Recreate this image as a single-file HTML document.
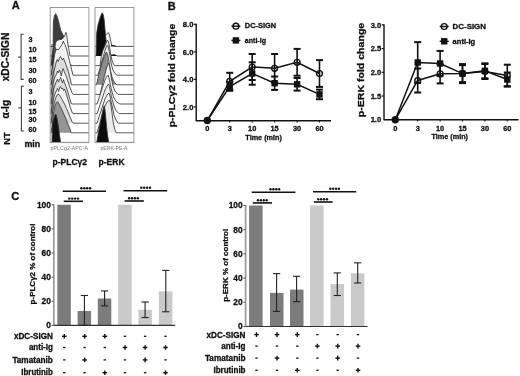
<!DOCTYPE html>
<html><head><meta charset="utf-8"><style>
html,body{margin:0;padding:0;background:#fff;}
html{filter:grayscale(1);}
body{width:520px;height:376px;overflow:hidden;}
svg{display:block;font-family:"Liberation Sans", sans-serif;}
text{stroke:#111;stroke-width:0.3px;stroke-linejoin:round;}
text.lt{stroke:none;}
</style></head><body>
<svg width="520" height="376" viewBox="0 0 520 376" font-family='"Liberation Sans", sans-serif'>
<rect width="520" height="376" fill="#fff"/>
<text x="11.8" y="8.8" font-size="11" font-weight="bold" fill="#111">A</text>
<text x="8.7" y="57.0" font-size="10.2" font-weight="bold" text-anchor="middle" transform="rotate(-90 8.7 57.0)" fill="#111">xDC-SIGN</text>
<text x="8.8" y="109.2" font-size="10" font-weight="bold" text-anchor="middle" transform="rotate(-90 8.8 109.2)" fill="#111">α-Ig</text>
<text x="9.8" y="138.6" font-size="9.3" font-weight="bold" text-anchor="middle" transform="rotate(-90 9.8 138.6)" fill="#111">NT</text>
<path d="M23.7 34.2 H21.1 V79.4 H23.7 M21.1 57.1 H18.1" fill="none" stroke="#444" stroke-width="1.1"/>
<path d="M24.0 86.2 H21.4 V131 H24.0 M21.4 107.9 H18.4" fill="none" stroke="#444" stroke-width="1.1"/>
<text x="28.4" y="41.7" font-size="7.2" font-weight="bold" fill="#111">3</text>
<text x="28.4" y="51.7" font-size="7.2" font-weight="bold" fill="#111">10</text>
<text x="28.4" y="62.3" font-size="7.2" font-weight="bold" fill="#111">15</text>
<text x="28.4" y="72.6" font-size="7.2" font-weight="bold" fill="#111">30</text>
<text x="28.4" y="83.0" font-size="7.2" font-weight="bold" fill="#111">60</text>
<text x="28.4" y="94.3" font-size="7.2" font-weight="bold" fill="#111">3</text>
<text x="28.4" y="104.9" font-size="7.2" font-weight="bold" fill="#111">10</text>
<text x="28.4" y="114.1" font-size="7.2" font-weight="bold" fill="#111">15</text>
<text x="28.4" y="122.2" font-size="7.2" font-weight="bold" fill="#111">30</text>
<text x="28.4" y="131.6" font-size="7.2" font-weight="bold" fill="#111">60</text>
<text x="24.4" y="147.2" font-size="8.4" font-weight="bold" textLength="15.8" lengthAdjust="spacingAndGlyphs" fill="#111">min</text>
<clipPath id="cb0"><rect x="50.2" y="7.5" width="38.7" height="135.1"/></clipPath>
<clipPath id="cb1"><rect x="95.0" y="7.5" width="38.9" height="135.1"/></clipPath>
<g clip-path="url(#cb0)">
<path d="M53.2 46.4 L53.2 36.0 L53.4 22.0 L54.3 16.0 L55.6 13.7 L56.5 15.0 L57.5 17.4 L59.1 23.8 L60.7 30.2 L62.8 34.5 L63.9 36.6 L65.0 38.0 L66.0 40.0 L67.0 43.0 L68.0 46.4Z" fill="#3c3c3c"/>
<path d="M50.2 46.4 L53.2 46.4 L53.2 36.0 L53.4 22.0 L54.3 16.0 L55.6 13.7 L56.5 15.0 L57.5 17.4 L59.1 23.8 L60.7 30.2 L62.8 34.5 L63.9 36.6 L65.0 38.0 L66.0 40.0 L67.0 43.0 L68.0 46.4 L88.9 46.4" fill="none" stroke="#3a3a3a" stroke-width="0.85"/>
<path d="M53.0 56.0 L54.0 52.0 L55.0 46.0 L56.0 41.5 L58.0 40.0 L60.0 39.6 L62.0 39.2 L63.6 37.5 L64.6 36.0 L65.3 34.0 L66.0 32.3 L66.6 34.5 L67.3 40.0 L68.2 46.0 L69.2 51.5 L70.2 56.0Z" fill="#f6f6f6"/>
<path d="M50.2 56.0 L53.0 56.0 L54.0 52.0 L55.0 46.0 L56.0 41.5 L58.0 40.0 L60.0 39.6 L62.0 39.2 L63.6 37.5 L64.6 36.0 L65.3 34.0 L66.0 32.3 L66.6 34.5 L67.3 40.0 L68.2 46.0 L69.2 51.5 L70.2 56.0 L88.9 56.0" fill="none" stroke="#3a3a3a" stroke-width="0.85"/>
<path d="M51.2 65.6 L52.0 58.0 L52.8 51.0 L53.5 47.0 L54.5 46.0 L55.5 48.0 L56.5 52.0 L57.5 56.0 L59.0 59.0 L61.0 61.0 L64.0 62.5 L68.0 64.0 L72.7 65.6Z" fill="#555555"/>
<path d="M50.2 65.6 L51.2 65.6 L52.0 58.0 L52.8 51.0 L53.5 47.0 L54.5 46.0 L55.5 48.0 L56.5 52.0 L57.5 56.0 L59.0 59.0 L61.0 61.0 L64.0 62.5 L68.0 64.0 L72.7 65.6 L88.9 65.6" fill="none" stroke="#3a3a3a" stroke-width="0.85"/>
<path d="M51.0 75.2 L52.0 70.0 L53.0 64.0 L54.0 58.0 L55.0 53.0 L56.0 50.0 L57.0 49.0 L58.0 50.0 L59.0 49.0 L60.0 47.5 L61.0 46.0 L62.0 44.5 L63.3 41.0 L64.0 43.0 L65.0 44.5 L66.0 47.5 L67.5 53.0 L69.0 59.0 L70.5 65.0 L72.0 71.0 L73.0 75.2Z" fill="#f2f2f2"/>
<path d="M50.2 75.2 L51.0 75.2 L52.0 70.0 L53.0 64.0 L54.0 58.0 L55.0 53.0 L56.0 50.0 L57.0 49.0 L58.0 50.0 L59.0 49.0 L60.0 47.5 L61.0 46.0 L62.0 44.5 L63.3 41.0 L64.0 43.0 L65.0 44.5 L66.0 47.5 L67.5 53.0 L69.0 59.0 L70.5 65.0 L72.0 71.0 L73.0 75.2 L88.9 75.2" fill="none" stroke="#3a3a3a" stroke-width="0.85"/>
<path d="M51.0 84.8 L52.2 78.0 L53.5 72.0 L55.0 67.0 L56.2 62.0 L57.2 59.5 L58.3 61.5 L59.3 58.5 L60.5 56.5 L61.5 58.5 L62.5 60.0 L63.5 58.0 L64.5 61.0 L66.0 64.5 L67.5 69.0 L69.0 74.0 L70.5 80.0 L71.5 84.8Z" fill="#dcdcdc"/>
<path d="M50.2 84.8 L51.0 84.8 L52.2 78.0 L53.5 72.0 L55.0 67.0 L56.2 62.0 L57.2 59.5 L58.3 61.5 L59.3 58.5 L60.5 56.5 L61.5 58.5 L62.5 60.0 L63.5 58.0 L64.5 61.0 L66.0 64.5 L67.5 69.0 L69.0 74.0 L70.5 80.0 L71.5 84.8 L88.9 84.8" fill="none" stroke="#3a3a3a" stroke-width="0.85"/>
<path d="M51.0 94.4 L52.2 87.0 L53.5 81.0 L55.0 77.0 L56.5 74.0 L57.5 71.0 L58.5 73.0 L59.5 70.0 L60.5 72.5 L61.3 76.0 L62.2 71.0 L63.0 68.5 L64.0 71.0 L65.0 73.5 L66.5 77.0 L68.5 83.0 L70.5 89.0 L72.0 92.5 L73.2 94.4Z" fill="#f5f5f5"/>
<path d="M50.2 94.4 L51.0 94.4 L52.2 87.0 L53.5 81.0 L55.0 77.0 L56.5 74.0 L57.5 71.0 L58.5 73.0 L59.5 70.0 L60.5 72.5 L61.3 76.0 L62.2 71.0 L63.0 68.5 L64.0 71.0 L65.0 73.5 L66.5 77.0 L68.5 83.0 L70.5 89.0 L72.0 92.5 L73.2 94.4 L88.9 94.4" fill="none" stroke="#3a3a3a" stroke-width="0.85"/>
<path d="M51.0 104.0 L52.2 96.0 L53.5 89.0 L55.0 85.0 L56.5 81.0 L57.5 79.0 L58.5 82.0 L59.5 79.5 L60.5 77.5 L61.5 80.0 L62.5 83.0 L63.5 79.5 L64.5 83.0 L66.0 86.5 L67.5 91.0 L69.0 96.0 L70.5 101.0 L71.5 104.0Z" fill="#dedede"/>
<path d="M50.2 104.0 L51.0 104.0 L52.2 96.0 L53.5 89.0 L55.0 85.0 L56.5 81.0 L57.5 79.0 L58.5 82.0 L59.5 79.5 L60.5 77.5 L61.5 80.0 L62.5 83.0 L63.5 79.5 L64.5 83.0 L66.0 86.5 L67.5 91.0 L69.0 96.0 L70.5 101.0 L71.5 104.0 L88.9 104.0" fill="none" stroke="#3a3a3a" stroke-width="0.85"/>
<path d="M51.0 113.6 L52.2 105.0 L53.5 98.0 L55.0 94.0 L56.5 90.5 L57.5 88.5 L58.5 91.5 L59.5 88.0 L60.5 86.5 L61.5 89.0 L62.5 88.0 L63.5 90.5 L64.5 89.0 L66.0 93.0 L67.5 98.0 L69.0 103.0 L70.5 108.0 L72.0 112.0 L73.0 113.6Z" fill="#f3f3f3"/>
<path d="M50.2 113.6 L51.0 113.6 L52.2 105.0 L53.5 98.0 L55.0 94.0 L56.5 90.5 L57.5 88.5 L58.5 91.5 L59.5 88.0 L60.5 86.5 L61.5 89.0 L62.5 88.0 L63.5 90.5 L64.5 89.0 L66.0 93.0 L67.5 98.0 L69.0 103.0 L70.5 108.0 L72.0 112.0 L73.0 113.6 L88.9 113.6" fill="none" stroke="#3a3a3a" stroke-width="0.85"/>
<path d="M51.0 123.2 L52.2 114.0 L53.5 106.0 L55.0 100.0 L56.5 96.0 L58.0 94.0 L59.5 95.0 L61.0 97.5 L62.6 100.5 L64.5 104.0 L66.5 108.5 L68.5 113.0 L70.5 118.0 L72.0 121.5 L73.3 123.2Z" fill="#dcdcdc"/>
<path d="M50.2 123.2 L51.0 123.2 L52.2 114.0 L53.5 106.0 L55.0 100.0 L56.5 96.0 L58.0 94.0 L59.5 95.0 L61.0 97.5 L62.6 100.5 L64.5 104.0 L66.5 108.5 L68.5 113.0 L70.5 118.0 L72.0 121.5 L73.3 123.2 L88.9 123.2" fill="none" stroke="#3a3a3a" stroke-width="0.85"/>
<path d="M51.0 132.8 L52.3 124.0 L53.5 114.0 L55.0 106.0 L56.3 102.5 L57.3 101.5 L58.5 103.0 L60.0 106.0 L62.0 110.0 L64.0 114.5 L66.0 119.0 L68.0 124.0 L70.0 129.0 L71.3 132.8Z" fill="#959595"/>
<path d="M50.2 132.8 L51.0 132.8 L52.3 124.0 L53.5 114.0 L55.0 106.0 L56.3 102.5 L57.3 101.5 L58.5 103.0 L60.0 106.0 L62.0 110.0 L64.0 114.5 L66.0 119.0 L68.0 124.0 L70.0 129.0 L71.3 132.8 L88.9 132.8" fill="none" stroke="#3a3a3a" stroke-width="0.85"/>
<path d="M52.0 142.4 L52.2 132.0 L52.6 124.0 L53.6 119.0 L55.0 115.2 L55.8 114.0 L56.6 116.0 L57.5 121.0 L58.5 127.0 L59.4 134.0 L60.1 139.0 L60.6 142.4Z" fill="#111111"/>
<path d="M50.2 142.4 L52.0 142.4 L52.2 132.0 L52.6 124.0 L53.6 119.0 L55.0 115.2 L55.8 114.0 L56.6 116.0 L57.5 121.0 L58.5 127.0 L59.4 134.0 L60.1 139.0 L60.6 142.4 L88.9 142.4" fill="none" stroke="#3a3a3a" stroke-width="0.85"/>
<path d="M50.6 44 L54 44 L54.6 70 L54.2 100 L52.6 120 L50.6 128 Z" fill="#000" fill-opacity="0.3"/>
</g>
<rect x="50.2" y="7.5" width="38.7" height="135.1" fill="none" stroke="#999" stroke-width="1.0"/>
<g clip-path="url(#cb1)">
<path d="M100.0 46.4 L103.0 40.0 L105.0 36.0 L106.5 34.0 L108.4 32.6 L109.5 35.0 L110.5 40.0 L111.6 45.0 L113.0 45.6 L116.0 46.4Z" fill="#f5f5f5"/>
<path d="M95.0 46.4 L100.0 46.4 L103.0 40.0 L105.0 36.0 L106.5 34.0 L108.4 32.6 L109.5 35.0 L110.5 40.0 L111.6 45.0 L113.0 45.6 L116.0 46.4 L133.9 46.4" fill="none" stroke="#3a3a3a" stroke-width="0.85"/>
<path d="M96.0 56.0 L96.3 45.0 L96.7 33.0 L98.0 25.0 L100.0 18.0 L101.5 14.0 L102.3 12.8 L103.3 15.0 L104.2 20.0 L105.0 29.3 L105.7 37.0 L106.2 43.0 L107.0 49.0 L108.5 53.5 L110.5 54.8 L112.0 55.0 L114.0 54.6 L116.0 55.3 L117.5 56.0Z" fill="#0c0c0c"/>
<path d="M95.0 56.0 L96.0 56.0 L96.3 45.0 L96.7 33.0 L98.0 25.0 L100.0 18.0 L101.5 14.0 L102.3 12.8 L103.3 15.0 L104.2 20.0 L105.0 29.3 L105.7 37.0 L106.2 43.0 L107.0 49.0 L108.5 53.5 L110.5 54.8 L112.0 55.0 L114.0 54.6 L116.0 55.3 L117.5 56.0 L133.9 56.0" fill="none" stroke="#3a3a3a" stroke-width="0.85"/>
<path d="M100.0 65.6 L101.3 56.0 L103.0 50.0 L105.0 45.5 L106.5 42.0 L107.5 40.0 L108.5 42.0 L109.5 47.0 L110.5 53.0 L111.5 58.0 L112.5 62.0 L114.4 65.6Z" fill="#eeeeee"/>
<path d="M95.0 65.6 L100.0 65.6 L101.3 56.0 L103.0 50.0 L105.0 45.5 L106.5 42.0 L107.5 40.0 L108.5 42.0 L109.5 47.0 L110.5 53.0 L111.5 58.0 L112.5 62.0 L114.4 65.6 L133.9 65.6" fill="none" stroke="#3a3a3a" stroke-width="0.85"/>
<path d="M98.0 75.2 L100.0 68.0 L102.0 61.0 L104.0 54.0 L105.5 49.0 L106.5 46.0 L107.5 45.0 L108.5 48.0 L109.5 53.0 L110.5 59.0 L111.5 65.0 L113.0 70.0 L115.0 73.5 L117.0 75.2Z" fill="#f3f3f3"/>
<path d="M95.0 75.2 L98.0 75.2 L100.0 68.0 L102.0 61.0 L104.0 54.0 L105.5 49.0 L106.5 46.0 L107.5 45.0 L108.5 48.0 L109.5 53.0 L110.5 59.0 L111.5 65.0 L113.0 70.0 L115.0 73.5 L117.0 75.2 L133.9 75.2" fill="none" stroke="#3a3a3a" stroke-width="0.85"/>
<path d="M96.5 84.8 L98.0 78.0 L100.0 70.0 L102.0 63.0 L104.0 57.0 L105.5 53.5 L106.5 52.0 L107.5 54.0 L108.5 59.0 L109.5 65.0 L110.5 71.0 L112.0 77.0 L114.0 82.0 L117.0 84.8Z" fill="#8c8c8c"/>
<path d="M95.0 84.8 L96.5 84.8 L98.0 78.0 L100.0 70.0 L102.0 63.0 L104.0 57.0 L105.5 53.5 L106.5 52.0 L107.5 54.0 L108.5 59.0 L109.5 65.0 L110.5 71.0 L112.0 77.0 L114.0 82.0 L117.0 84.8 L133.9 84.8" fill="none" stroke="#3a3a3a" stroke-width="0.85"/>
<path d="M100.0 94.4 L102.0 86.0 L104.0 78.0 L106.0 70.0 L107.5 65.0 L108.5 63.0 L109.5 66.0 L110.5 72.0 L111.5 79.0 L113.0 86.0 L115.0 91.0 L118.0 94.4Z" fill="#f5f5f5"/>
<path d="M95.0 94.4 L100.0 94.4 L102.0 86.0 L104.0 78.0 L106.0 70.0 L107.5 65.0 L108.5 63.0 L109.5 66.0 L110.5 72.0 L111.5 79.0 L113.0 86.0 L115.0 91.0 L118.0 94.4 L133.9 94.4" fill="none" stroke="#3a3a3a" stroke-width="0.85"/>
<path d="M97.0 104.0 L99.0 98.0 L101.0 92.0 L103.0 86.0 L105.0 80.0 L106.5 77.0 L108.0 75.0 L109.0 78.0 L110.0 83.0 L111.5 90.0 L113.5 97.0 L116.0 101.5 L120.0 104.0Z" fill="#f5f5f5"/>
<path d="M95.0 104.0 L97.0 104.0 L99.0 98.0 L101.0 92.0 L103.0 86.0 L105.0 80.0 L106.5 77.0 L108.0 75.0 L109.0 78.0 L110.0 83.0 L111.5 90.0 L113.5 97.0 L116.0 101.5 L120.0 104.0 L133.9 104.0" fill="none" stroke="#3a3a3a" stroke-width="0.85"/>
<path d="M97.0 113.6 L99.0 108.0 L101.0 102.0 L103.0 96.0 L105.0 90.0 L107.0 86.0 L108.5 84.0 L109.5 87.0 L110.5 92.0 L112.0 99.0 L114.0 106.0 L116.0 110.5 L119.0 113.6Z" fill="#f0f0f0"/>
<path d="M95.0 113.6 L97.0 113.6 L99.0 108.0 L101.0 102.0 L103.0 96.0 L105.0 90.0 L107.0 86.0 L108.5 84.0 L109.5 87.0 L110.5 92.0 L112.0 99.0 L114.0 106.0 L116.0 110.5 L119.0 113.6 L133.9 113.6" fill="none" stroke="#3a3a3a" stroke-width="0.85"/>
<path d="M97.0 123.2 L99.0 117.0 L101.0 111.0 L103.0 105.0 L105.0 99.0 L107.0 95.0 L109.0 93.0 L110.0 96.0 L111.0 101.0 L112.5 108.0 L114.0 115.0 L116.0 120.0 L118.0 123.2Z" fill="#f4f4f4"/>
<path d="M95.0 123.2 L97.0 123.2 L99.0 117.0 L101.0 111.0 L103.0 105.0 L105.0 99.0 L107.0 95.0 L109.0 93.0 L110.0 96.0 L111.0 101.0 L112.5 108.0 L114.0 115.0 L116.0 120.0 L118.0 123.2 L133.9 123.2" fill="none" stroke="#3a3a3a" stroke-width="0.85"/>
<path d="M97.0 132.8 L99.0 126.0 L101.0 119.0 L103.0 112.0 L105.0 106.0 L107.0 102.0 L109.5 100.0 L110.5 103.0 L111.5 109.0 L112.5 117.0 L113.5 124.0 L115.0 130.0 L116.3 132.8Z" fill="#ebebeb"/>
<path d="M95.0 132.8 L97.0 132.8 L99.0 126.0 L101.0 119.0 L103.0 112.0 L105.0 106.0 L107.0 102.0 L109.5 100.0 L110.5 103.0 L111.5 109.0 L112.5 117.0 L113.5 124.0 L115.0 130.0 L116.3 132.8 L133.9 132.8" fill="none" stroke="#3a3a3a" stroke-width="0.85"/>
<path d="M96.7 142.4 L98.5 132.0 L100.5 122.0 L102.5 112.0 L104.1 105.8 L105.0 110.0 L105.8 118.0 L106.5 126.0 L107.3 133.0 L108.0 138.0 L108.8 142.4Z" fill="#0c0c0c"/>
<path d="M95.0 142.4 L96.7 142.4 L98.5 132.0 L100.5 122.0 L102.5 112.0 L104.1 105.8 L105.0 110.0 L105.8 118.0 L106.5 126.0 L107.3 133.0 L108.0 138.0 L108.8 142.4 L133.9 142.4" fill="none" stroke="#3a3a3a" stroke-width="0.85"/>
<path d="M110.6 46.4 L111.4 44.8 L113 44.9 L115 45.4 L116.8 46.4 Z" fill="#222"/>
</g>
<rect x="95.0" y="7.5" width="38.9" height="135.1" fill="none" stroke="#999" stroke-width="1.0"/>
<text class="lt" x="69.3" y="150.3" font-size="4.6" text-anchor="middle" textLength="37.5" lengthAdjust="spacingAndGlyphs" fill="#777">pPLCg2-APC-A</text>
<text class="lt" x="114" y="150.3" font-size="4.6" text-anchor="middle" textLength="27" lengthAdjust="spacingAndGlyphs" fill="#777">pERK-PE-A</text>
<text x="69.8" y="165.0" font-size="8.6" font-weight="bold" text-anchor="middle" textLength="34.5" lengthAdjust="spacingAndGlyphs" fill="#111">p-PLCγ2</text>
<text x="111.6" y="165.0" font-size="8.6" font-weight="bold" text-anchor="middle" textLength="26" lengthAdjust="spacingAndGlyphs" fill="#111">p-ERK</text>
<text x="167.8" y="9.6" font-size="11" font-weight="bold" fill="#111">B</text>
<line x1="196.2" y1="23.71" x2="196.2" y2="121.3" stroke="#111" stroke-width="1.4"/>
<line x1="196.2" y1="120.7" x2="331" y2="120.7" stroke="#111" stroke-width="1.4"/>
<line x1="193.8" y1="106.93" x2="196.2" y2="106.93" stroke="#111" stroke-width="1.2"/>
<text x="193.4" y="109.63" font-size="7.6" font-weight="bold" text-anchor="end" fill="#111">2.0</text>
<line x1="193.8" y1="79.39" x2="196.2" y2="79.39" stroke="#111" stroke-width="1.2"/>
<text x="193.4" y="82.09" font-size="7.6" font-weight="bold" text-anchor="end" fill="#111">4.0</text>
<line x1="193.8" y1="51.85" x2="196.2" y2="51.85" stroke="#111" stroke-width="1.2"/>
<text x="193.4" y="54.55" font-size="7.6" font-weight="bold" text-anchor="end" fill="#111">6.0</text>
<line x1="193.8" y1="24.31" x2="196.2" y2="24.31" stroke="#111" stroke-width="1.2"/>
<text x="193.4" y="27.01" font-size="7.6" font-weight="bold" text-anchor="end" fill="#111">8.0</text>
<line x1="207.3" y1="120.7" x2="207.3" y2="122.5" stroke="#111" stroke-width="1.1"/>
<text x="207.3" y="131.1" font-size="7.4" font-weight="bold" text-anchor="middle" fill="#111">0</text>
<line x1="229.7" y1="120.7" x2="229.7" y2="122.5" stroke="#111" stroke-width="1.1"/>
<text x="229.7" y="131.1" font-size="7.4" font-weight="bold" text-anchor="middle" fill="#111">3</text>
<line x1="252.2" y1="120.7" x2="252.2" y2="122.5" stroke="#111" stroke-width="1.1"/>
<text x="252.2" y="131.1" font-size="7.4" font-weight="bold" text-anchor="middle" fill="#111">10</text>
<line x1="274.6" y1="120.7" x2="274.6" y2="122.5" stroke="#111" stroke-width="1.1"/>
<text x="274.6" y="131.1" font-size="7.4" font-weight="bold" text-anchor="middle" fill="#111">15</text>
<line x1="297.1" y1="120.7" x2="297.1" y2="122.5" stroke="#111" stroke-width="1.1"/>
<text x="297.1" y="131.1" font-size="7.4" font-weight="bold" text-anchor="middle" fill="#111">30</text>
<line x1="319.5" y1="120.7" x2="319.5" y2="122.5" stroke="#111" stroke-width="1.1"/>
<text x="319.5" y="131.1" font-size="7.4" font-weight="bold" text-anchor="middle" fill="#111">60</text>
<text x="263.6" y="139.9" font-size="7.6" font-weight="bold" text-anchor="middle" textLength="36.5" lengthAdjust="spacingAndGlyphs" fill="#111">Time (min)</text>
<text x="175.2" y="75.5" font-size="9.7" font-weight="bold" text-anchor="middle" textLength="103.5" lengthAdjust="spacingAndGlyphs" transform="rotate(-90 175.2 75.5)" fill="#111">p-PLCγ2 fold change</text>
<polyline points="207.3,120.5 229.7,81.3 252.2,67.0 274.6,68.3 297.1,62.3 319.5,73.5" fill="none" stroke="#111" stroke-width="1.5"/>
<polyline points="207.3,120.5 229.7,86.5 252.2,73.5 274.6,83.2 297.1,84.3 319.5,94.4" fill="none" stroke="#111" stroke-width="1.5"/>
<line x1="229.7" y1="72.8" x2="229.7" y2="89.8" stroke="#111" stroke-width="1.6"/>
<line x1="226.2" y1="72.8" x2="233.2" y2="72.8" stroke="#111" stroke-width="2.0"/>
<line x1="226.2" y1="89.8" x2="233.2" y2="89.8" stroke="#111" stroke-width="2.0"/>
<line x1="252.2" y1="54" x2="252.2" y2="80" stroke="#111" stroke-width="1.6"/>
<line x1="248.7" y1="54" x2="255.7" y2="54" stroke="#111" stroke-width="2.0"/>
<line x1="248.7" y1="80" x2="255.7" y2="80" stroke="#111" stroke-width="2.0"/>
<line x1="274.6" y1="54.0" x2="274.6" y2="82.6" stroke="#111" stroke-width="1.6"/>
<line x1="271.1" y1="54.0" x2="278.1" y2="54.0" stroke="#111" stroke-width="2.0"/>
<line x1="271.1" y1="82.6" x2="278.1" y2="82.6" stroke="#111" stroke-width="2.0"/>
<line x1="297.1" y1="48.9" x2="297.1" y2="75.7" stroke="#111" stroke-width="1.6"/>
<line x1="293.6" y1="48.9" x2="300.6" y2="48.9" stroke="#111" stroke-width="2.0"/>
<line x1="293.6" y1="75.7" x2="300.6" y2="75.7" stroke="#111" stroke-width="2.0"/>
<line x1="319.5" y1="60.1" x2="319.5" y2="86.9" stroke="#111" stroke-width="1.6"/>
<line x1="316.0" y1="60.1" x2="323.0" y2="60.1" stroke="#111" stroke-width="2.0"/>
<line x1="316.0" y1="86.9" x2="323.0" y2="86.9" stroke="#111" stroke-width="2.0"/>
<line x1="229.7" y1="82.2" x2="229.7" y2="90.8" stroke="#111" stroke-width="1.6"/>
<line x1="226.2" y1="82.2" x2="233.2" y2="82.2" stroke="#111" stroke-width="2.0"/>
<line x1="226.2" y1="90.8" x2="233.2" y2="90.8" stroke="#111" stroke-width="2.0"/>
<line x1="252.2" y1="62.3" x2="252.2" y2="84.7" stroke="#111" stroke-width="1.6"/>
<line x1="248.7" y1="62.3" x2="255.7" y2="62.3" stroke="#111" stroke-width="2.0"/>
<line x1="248.7" y1="84.7" x2="255.7" y2="84.7" stroke="#111" stroke-width="2.0"/>
<line x1="274.6" y1="76.5" x2="274.6" y2="89.9" stroke="#111" stroke-width="1.6"/>
<line x1="271.1" y1="76.5" x2="278.1" y2="76.5" stroke="#111" stroke-width="2.0"/>
<line x1="271.1" y1="89.9" x2="278.1" y2="89.9" stroke="#111" stroke-width="2.0"/>
<line x1="297.1" y1="78.0" x2="297.1" y2="90.6" stroke="#111" stroke-width="1.6"/>
<line x1="293.6" y1="78.0" x2="300.6" y2="78.0" stroke="#111" stroke-width="2.0"/>
<line x1="293.6" y1="90.6" x2="300.6" y2="90.6" stroke="#111" stroke-width="2.0"/>
<line x1="319.5" y1="89.6" x2="319.5" y2="99.2" stroke="#111" stroke-width="1.6"/>
<line x1="316.0" y1="89.6" x2="323.0" y2="89.6" stroke="#111" stroke-width="2.0"/>
<line x1="316.0" y1="99.2" x2="323.0" y2="99.2" stroke="#111" stroke-width="2.0"/>
<circle cx="207.3" cy="120.5" r="3.7" fill="#111"/>
<circle cx="229.7" cy="81.3" r="2.9" fill="none" stroke="#111" stroke-width="1.4"/>
<circle cx="252.2" cy="67" r="2.9" fill="none" stroke="#111" stroke-width="1.4"/>
<circle cx="274.6" cy="68.3" r="2.9" fill="none" stroke="#111" stroke-width="1.4"/>
<circle cx="297.1" cy="62.3" r="2.9" fill="none" stroke="#111" stroke-width="1.4"/>
<circle cx="319.5" cy="73.5" r="2.9" fill="none" stroke="#111" stroke-width="1.4"/>
<rect x="226.5" y="83.3" width="6.4" height="6.4" fill="#111"/>
<rect x="249.0" y="70.3" width="6.4" height="6.4" fill="#111"/>
<rect x="271.4" y="80.0" width="6.4" height="6.4" fill="#111"/>
<rect x="293.9" y="81.1" width="6.4" height="6.4" fill="#111"/>
<rect x="316.3" y="91.2" width="6.4" height="6.4" fill="#111"/>
<line x1="231.4" y1="26.2" x2="240.4" y2="26.2" stroke="#111" stroke-width="1.4"/>
<circle cx="235.9" cy="26.2" r="2.9" fill="none" stroke="#111" stroke-width="1.4"/>
<text x="244.8" y="28.4" font-size="7.7" font-weight="bold" textLength="31.4" lengthAdjust="spacingAndGlyphs" fill="#111">DC-SIGN</text>
<line x1="231.4" y1="40.4" x2="240.4" y2="40.4" stroke="#111" stroke-width="1.4"/>
<rect x="232.7" y="37.2" width="6.4" height="6.4" fill="#111"/>
<text x="244.8" y="42.8" font-size="7.7" font-weight="bold" textLength="21.2" lengthAdjust="spacingAndGlyphs" fill="#111">anti-Ig</text>
<line x1="384" y1="24.3" x2="384" y2="120.3" stroke="#111" stroke-width="1.4"/>
<line x1="384" y1="119.7" x2="518.6" y2="119.7" stroke="#111" stroke-width="1.4"/>
<text x="381.2" y="122.4" font-size="7.6" font-weight="bold" text-anchor="end" fill="#111">1.0</text>
<line x1="381.6" y1="96.0" x2="384" y2="96.0" stroke="#111" stroke-width="1.2"/>
<text x="381.2" y="98.7" font-size="7.6" font-weight="bold" text-anchor="end" fill="#111">1.5</text>
<line x1="381.6" y1="72.3" x2="384" y2="72.3" stroke="#111" stroke-width="1.2"/>
<text x="381.2" y="75" font-size="7.6" font-weight="bold" text-anchor="end" fill="#111">2.0</text>
<line x1="381.6" y1="48.6" x2="384" y2="48.6" stroke="#111" stroke-width="1.2"/>
<text x="381.2" y="51.3" font-size="7.6" font-weight="bold" text-anchor="end" fill="#111">2.5</text>
<line x1="381.6" y1="24.9" x2="384" y2="24.9" stroke="#111" stroke-width="1.2"/>
<text x="381.2" y="27.6" font-size="7.6" font-weight="bold" text-anchor="end" fill="#111">3.0</text>
<line x1="395.3" y1="119.7" x2="395.3" y2="121.5" stroke="#111" stroke-width="1.1"/>
<text x="395.3" y="130.7" font-size="7.4" font-weight="bold" text-anchor="middle" fill="#111">0</text>
<line x1="417.7" y1="119.7" x2="417.7" y2="121.5" stroke="#111" stroke-width="1.1"/>
<text x="417.7" y="130.7" font-size="7.4" font-weight="bold" text-anchor="middle" fill="#111">3</text>
<line x1="440.1" y1="119.7" x2="440.1" y2="121.5" stroke="#111" stroke-width="1.1"/>
<text x="440.1" y="130.7" font-size="7.4" font-weight="bold" text-anchor="middle" fill="#111">10</text>
<line x1="462.5" y1="119.7" x2="462.5" y2="121.5" stroke="#111" stroke-width="1.1"/>
<text x="462.5" y="130.7" font-size="7.4" font-weight="bold" text-anchor="middle" fill="#111">15</text>
<line x1="484.9" y1="119.7" x2="484.9" y2="121.5" stroke="#111" stroke-width="1.1"/>
<text x="484.9" y="130.7" font-size="7.4" font-weight="bold" text-anchor="middle" fill="#111">30</text>
<line x1="507.3" y1="119.7" x2="507.3" y2="121.5" stroke="#111" stroke-width="1.1"/>
<text x="507.3" y="130.7" font-size="7.4" font-weight="bold" text-anchor="middle" fill="#111">60</text>
<text x="449.8" y="138.9" font-size="7.6" font-weight="bold" text-anchor="middle" textLength="36.5" lengthAdjust="spacingAndGlyphs" fill="#111">Time (min)</text>
<text x="364.4" y="70" font-size="9.7" font-weight="bold" text-anchor="middle" textLength="94.5" lengthAdjust="spacingAndGlyphs" transform="rotate(-90 364.4 70)" fill="#111">p-ERK fold change</text>
<polyline points="395.3,119.7 417.7,80.5 440.1,73.8 462.5,73.6 484.9,71.5 507.3,75.5" fill="none" stroke="#111" stroke-width="1.5"/>
<polyline points="395.3,119.7 417.7,62.5 440.1,63.5 462.5,73.6 484.9,70.8 507.3,79.5" fill="none" stroke="#111" stroke-width="1.5"/>
<line x1="417.7" y1="68.5" x2="417.7" y2="92.5" stroke="#111" stroke-width="1.6"/>
<line x1="414.2" y1="68.5" x2="421.2" y2="68.5" stroke="#111" stroke-width="2.0"/>
<line x1="414.2" y1="92.5" x2="421.2" y2="92.5" stroke="#111" stroke-width="2.0"/>
<line x1="440.1" y1="64.2" x2="440.1" y2="83.4" stroke="#111" stroke-width="1.6"/>
<line x1="436.6" y1="64.2" x2="443.6" y2="64.2" stroke="#111" stroke-width="2.0"/>
<line x1="436.6" y1="83.4" x2="443.6" y2="83.4" stroke="#111" stroke-width="2.0"/>
<line x1="462.5" y1="65.1" x2="462.5" y2="82.1" stroke="#111" stroke-width="1.6"/>
<line x1="459.0" y1="65.1" x2="466.0" y2="65.1" stroke="#111" stroke-width="2.0"/>
<line x1="459.0" y1="82.1" x2="466.0" y2="82.1" stroke="#111" stroke-width="2.0"/>
<line x1="484.9" y1="64.0" x2="484.9" y2="79.0" stroke="#111" stroke-width="1.6"/>
<line x1="481.4" y1="64.0" x2="488.4" y2="64.0" stroke="#111" stroke-width="2.0"/>
<line x1="481.4" y1="79.0" x2="488.4" y2="79.0" stroke="#111" stroke-width="2.0"/>
<line x1="507.3" y1="64.7" x2="507.3" y2="86.3" stroke="#111" stroke-width="1.6"/>
<line x1="503.8" y1="64.7" x2="510.8" y2="64.7" stroke="#111" stroke-width="2.0"/>
<line x1="503.8" y1="86.3" x2="510.8" y2="86.3" stroke="#111" stroke-width="2.0"/>
<line x1="417.7" y1="42.1" x2="417.7" y2="82.9" stroke="#111" stroke-width="1.6"/>
<line x1="414.2" y1="42.1" x2="421.2" y2="42.1" stroke="#111" stroke-width="2.0"/>
<line x1="414.2" y1="82.9" x2="421.2" y2="82.9" stroke="#111" stroke-width="2.0"/>
<line x1="440.1" y1="50.9" x2="440.1" y2="76.1" stroke="#111" stroke-width="1.6"/>
<line x1="436.6" y1="50.9" x2="443.6" y2="50.9" stroke="#111" stroke-width="2.0"/>
<line x1="436.6" y1="76.1" x2="443.6" y2="76.1" stroke="#111" stroke-width="2.0"/>
<line x1="462.5" y1="64.1" x2="462.5" y2="83.1" stroke="#111" stroke-width="1.6"/>
<line x1="459.0" y1="64.1" x2="466.0" y2="64.1" stroke="#111" stroke-width="2.0"/>
<line x1="459.0" y1="83.1" x2="466.0" y2="83.1" stroke="#111" stroke-width="2.0"/>
<line x1="484.9" y1="63.3" x2="484.9" y2="78.3" stroke="#111" stroke-width="1.6"/>
<line x1="481.4" y1="63.3" x2="488.4" y2="63.3" stroke="#111" stroke-width="2.0"/>
<line x1="481.4" y1="78.3" x2="488.4" y2="78.3" stroke="#111" stroke-width="2.0"/>
<line x1="507.3" y1="72.5" x2="507.3" y2="86.5" stroke="#111" stroke-width="1.6"/>
<line x1="503.8" y1="72.5" x2="510.8" y2="72.5" stroke="#111" stroke-width="2.0"/>
<line x1="503.8" y1="86.5" x2="510.8" y2="86.5" stroke="#111" stroke-width="2.0"/>
<circle cx="395.3" cy="119.7" r="3.7" fill="#111"/>
<circle cx="417.7" cy="80.5" r="2.9" fill="none" stroke="#111" stroke-width="1.4"/>
<circle cx="440.1" cy="73.8" r="2.9" fill="none" stroke="#111" stroke-width="1.4"/>
<circle cx="462.5" cy="73.6" r="2.9" fill="none" stroke="#111" stroke-width="1.4"/>
<circle cx="484.9" cy="71.5" r="2.9" fill="none" stroke="#111" stroke-width="1.4"/>
<circle cx="507.3" cy="75.5" r="2.9" fill="none" stroke="#111" stroke-width="1.4"/>
<rect x="414.5" y="59.3" width="6.4" height="6.4" fill="#111"/>
<rect x="436.9" y="60.3" width="6.4" height="6.4" fill="#111"/>
<rect x="459.3" y="70.4" width="6.4" height="6.4" fill="#111"/>
<rect x="481.7" y="67.6" width="6.4" height="6.4" fill="#111"/>
<rect x="504.1" y="76.3" width="6.4" height="6.4" fill="#111"/>
<line x1="439.7" y1="26.5" x2="448.7" y2="26.5" stroke="#111" stroke-width="1.4"/>
<circle cx="444.2" cy="26.5" r="2.9" fill="none" stroke="#111" stroke-width="1.4"/>
<text x="452.6" y="28.7" font-size="7.7" font-weight="bold" textLength="33.4" lengthAdjust="spacingAndGlyphs" fill="#111">DC-SIGN</text>
<line x1="439.7" y1="41.3" x2="448.7" y2="41.3" stroke="#111" stroke-width="1.4"/>
<rect x="441.0" y="38.1" width="6.4" height="6.4" fill="#111"/>
<text x="452.6" y="43.7" font-size="7.7" font-weight="bold" textLength="22.6" lengthAdjust="spacingAndGlyphs" fill="#111">anti-Ig</text>
<text x="11.2" y="199.8" font-size="11.2" font-weight="bold" fill="#111">C</text>
<line x1="53.8" y1="204.3" x2="53.8" y2="325.4" stroke="#999" stroke-width="1.7"/>
<line x1="51.6" y1="325.4" x2="53.8" y2="325.4" stroke="#555" stroke-width="1"/>
<text x="50.8" y="328.3" font-size="8.3" font-weight="bold" text-anchor="end" fill="#111">0</text>
<line x1="51.6" y1="301.28" x2="53.8" y2="301.28" stroke="#555" stroke-width="1"/>
<text x="50.8" y="304.18" font-size="8.3" font-weight="bold" text-anchor="end" fill="#111">20</text>
<line x1="51.6" y1="277.16" x2="53.8" y2="277.16" stroke="#555" stroke-width="1"/>
<text x="50.8" y="280.06" font-size="8.3" font-weight="bold" text-anchor="end" fill="#111">40</text>
<line x1="51.6" y1="253.04" x2="53.8" y2="253.04" stroke="#555" stroke-width="1"/>
<text x="50.8" y="255.94" font-size="8.3" font-weight="bold" text-anchor="end" fill="#111">60</text>
<line x1="51.6" y1="228.92" x2="53.8" y2="228.92" stroke="#555" stroke-width="1"/>
<text x="50.8" y="231.82" font-size="8.3" font-weight="bold" text-anchor="end" fill="#111">80</text>
<line x1="51.6" y1="204.8" x2="53.8" y2="204.8" stroke="#555" stroke-width="1"/>
<text x="50.8" y="207.7" font-size="8.3" font-weight="bold" text-anchor="end" fill="#111">100</text>
<rect x="57.3" y="204.8" width="13.5" height="120.6" fill="#7c7c7c"/>
<rect x="77.6" y="311.0" width="13.5" height="14.4" fill="#7c7c7c"/>
<rect x="97.8" y="298.5" width="13.5" height="26.9" fill="#7c7c7c"/>
<rect x="118.2" y="204.8" width="13.5" height="120.6" fill="#c9c9c9"/>
<rect x="138.4" y="309.8" width="13.5" height="15.6" fill="#c9c9c9"/>
<rect x="158.9" y="291.4" width="13.5" height="34.0" fill="#c9c9c9"/>
<line x1="53.8" y1="325.4" x2="175.2" y2="325.4" stroke="#333" stroke-width="1.2"/>
<line x1="84.4" y1="295.49" x2="84.4" y2="325.4" stroke="#222" stroke-width="1.1"/>
<line x1="80.8" y1="295.49" x2="88.0" y2="295.49" stroke="#222" stroke-width="1.1"/>
<line x1="80.8" y1="325.4" x2="88.0" y2="325.4" stroke="#222" stroke-width="1.1"/>
<line x1="104.6" y1="290.91" x2="104.6" y2="305.86" stroke="#222" stroke-width="1.1"/>
<line x1="101.0" y1="290.91" x2="108.2" y2="290.91" stroke="#222" stroke-width="1.1"/>
<line x1="101.0" y1="305.86" x2="108.2" y2="305.86" stroke="#222" stroke-width="1.1"/>
<line x1="145.1" y1="302" x2="145.1" y2="317.56" stroke="#222" stroke-width="1.1"/>
<line x1="141.5" y1="302" x2="148.7" y2="302" stroke="#222" stroke-width="1.1"/>
<line x1="141.5" y1="317.56" x2="148.7" y2="317.56" stroke="#222" stroke-width="1.1"/>
<line x1="165.8" y1="270.41" x2="165.8" y2="311.77" stroke="#222" stroke-width="1.1"/>
<line x1="162.2" y1="270.41" x2="169.4" y2="270.41" stroke="#222" stroke-width="1.1"/>
<line x1="162.2" y1="311.77" x2="169.4" y2="311.77" stroke="#222" stroke-width="1.1"/>
<text x="35.0" y="264" font-size="7.9" font-weight="bold" text-anchor="middle" textLength="80.8" lengthAdjust="spacingAndGlyphs" transform="rotate(-90 35.0 264)" fill="#111">p-PLCγ2 % of control</text>
<line x1="62.7" y1="191.2" x2="106" y2="191.2" stroke="#111" stroke-width="1.6"/>
<circle cx="81.40" cy="188.2" r="1.2" fill="#111"/>
<circle cx="84.30" cy="188.2" r="1.2" fill="#111"/>
<circle cx="87.20" cy="188.2" r="1.2" fill="#111"/>
<circle cx="90.10" cy="188.2" r="1.2" fill="#111"/>
<line x1="63.7" y1="201.3" x2="82.9" y2="201.3" stroke="#111" stroke-width="1.6"/>
<circle cx="69.30" cy="198.6" r="1.2" fill="#111"/>
<circle cx="72.20" cy="198.6" r="1.2" fill="#111"/>
<circle cx="75.10" cy="198.6" r="1.2" fill="#111"/>
<circle cx="78.00" cy="198.6" r="1.2" fill="#111"/>
<line x1="123.5" y1="190.8" x2="167.2" y2="190.8" stroke="#111" stroke-width="1.6"/>
<circle cx="141.25" cy="187.8" r="1.2" fill="#111"/>
<circle cx="144.15" cy="187.8" r="1.2" fill="#111"/>
<circle cx="147.05" cy="187.8" r="1.2" fill="#111"/>
<circle cx="149.95" cy="187.8" r="1.2" fill="#111"/>
<line x1="124.6" y1="201" x2="143.8" y2="201" stroke="#111" stroke-width="1.6"/>
<circle cx="129.15" cy="198.3" r="1.2" fill="#111"/>
<circle cx="132.05" cy="198.3" r="1.2" fill="#111"/>
<circle cx="134.95" cy="198.3" r="1.2" fill="#111"/>
<circle cx="137.85" cy="198.3" r="1.2" fill="#111"/>
<line x1="245.6" y1="205.0" x2="245.6" y2="326.5" stroke="#999" stroke-width="1.7"/>
<line x1="243.4" y1="326.5" x2="245.6" y2="326.5" stroke="#555" stroke-width="1"/>
<text x="242.6" y="329.4" font-size="8.3" font-weight="bold" text-anchor="end" fill="#111">0</text>
<line x1="243.4" y1="302.3" x2="245.6" y2="302.3" stroke="#555" stroke-width="1"/>
<text x="242.6" y="305.2" font-size="8.3" font-weight="bold" text-anchor="end" fill="#111">20</text>
<line x1="243.4" y1="278.1" x2="245.6" y2="278.1" stroke="#555" stroke-width="1"/>
<text x="242.6" y="281.0" font-size="8.3" font-weight="bold" text-anchor="end" fill="#111">40</text>
<line x1="243.4" y1="253.9" x2="245.6" y2="253.9" stroke="#555" stroke-width="1"/>
<text x="242.6" y="256.8" font-size="8.3" font-weight="bold" text-anchor="end" fill="#111">60</text>
<line x1="243.4" y1="229.7" x2="245.6" y2="229.7" stroke="#555" stroke-width="1"/>
<text x="242.6" y="232.6" font-size="8.3" font-weight="bold" text-anchor="end" fill="#111">80</text>
<line x1="243.4" y1="205.5" x2="245.6" y2="205.5" stroke="#555" stroke-width="1"/>
<text x="242.6" y="208.4" font-size="8.3" font-weight="bold" text-anchor="end" fill="#111">100</text>
<rect x="249.1" y="205.5" width="13.5" height="121.0" fill="#7c7c7c"/>
<rect x="270" y="292.9" width="13.5" height="33.6" fill="#7c7c7c"/>
<rect x="290" y="289.6" width="13.5" height="36.9" fill="#7c7c7c"/>
<rect x="310.1" y="205.5" width="13.5" height="121.0" fill="#c9c9c9"/>
<rect x="330.5" y="284.1" width="13.5" height="42.4" fill="#c9c9c9"/>
<rect x="350.9" y="273.3" width="13.5" height="53.2" fill="#c9c9c9"/>
<line x1="245.6" y1="326.5" x2="367.5" y2="326.5" stroke="#333" stroke-width="1.2"/>
<line x1="276.6" y1="273.62" x2="276.6" y2="311.38" stroke="#222" stroke-width="1.1"/>
<line x1="273.0" y1="273.62" x2="280.2" y2="273.62" stroke="#222" stroke-width="1.1"/>
<line x1="273.0" y1="311.38" x2="280.2" y2="311.38" stroke="#222" stroke-width="1.1"/>
<line x1="296.6" y1="276.29" x2="296.6" y2="301.69" stroke="#222" stroke-width="1.1"/>
<line x1="293.0" y1="276.29" x2="300.2" y2="276.29" stroke="#222" stroke-width="1.1"/>
<line x1="293.0" y1="301.69" x2="300.2" y2="301.69" stroke="#222" stroke-width="1.1"/>
<line x1="337.3" y1="272.9" x2="337.3" y2="295.52" stroke="#222" stroke-width="1.1"/>
<line x1="333.7" y1="272.9" x2="340.9" y2="272.9" stroke="#222" stroke-width="1.1"/>
<line x1="333.7" y1="295.52" x2="340.9" y2="295.52" stroke="#222" stroke-width="1.1"/>
<line x1="357.7" y1="262.85" x2="357.7" y2="282.94" stroke="#222" stroke-width="1.1"/>
<line x1="354.1" y1="262.85" x2="361.3" y2="262.85" stroke="#222" stroke-width="1.1"/>
<line x1="354.1" y1="282.94" x2="361.3" y2="282.94" stroke="#222" stroke-width="1.1"/>
<text x="227.7" y="265.3" font-size="7.9" font-weight="bold" text-anchor="middle" textLength="73" lengthAdjust="spacingAndGlyphs" transform="rotate(-90 227.7 265.3)" fill="#111">p-ERK % of control</text>
<line x1="251.7" y1="192.3" x2="295.4" y2="192.3" stroke="#111" stroke-width="1.6"/>
<circle cx="270.45" cy="189.3" r="1.2" fill="#111"/>
<circle cx="273.35" cy="189.3" r="1.2" fill="#111"/>
<circle cx="276.25" cy="189.3" r="1.2" fill="#111"/>
<circle cx="279.15" cy="189.3" r="1.2" fill="#111"/>
<line x1="252.7" y1="202.9" x2="272" y2="202.9" stroke="#111" stroke-width="1.6"/>
<circle cx="257.95" cy="200.2" r="1.2" fill="#111"/>
<circle cx="260.85" cy="200.2" r="1.2" fill="#111"/>
<circle cx="263.75" cy="200.2" r="1.2" fill="#111"/>
<circle cx="266.65" cy="200.2" r="1.2" fill="#111"/>
<line x1="313" y1="191.7" x2="356.2" y2="191.7" stroke="#111" stroke-width="1.6"/>
<circle cx="330.25" cy="188.7" r="1.2" fill="#111"/>
<circle cx="333.15" cy="188.7" r="1.2" fill="#111"/>
<circle cx="336.05" cy="188.7" r="1.2" fill="#111"/>
<circle cx="338.95" cy="188.7" r="1.2" fill="#111"/>
<line x1="313.8" y1="202" x2="332.7" y2="202" stroke="#111" stroke-width="1.6"/>
<circle cx="318.25" cy="199.3" r="1.2" fill="#111"/>
<circle cx="321.15" cy="199.3" r="1.2" fill="#111"/>
<circle cx="324.05" cy="199.3" r="1.2" fill="#111"/>
<circle cx="326.95" cy="199.3" r="1.2" fill="#111"/>
<text x="52.9" y="339" font-size="8.2" font-weight="bold" text-anchor="end" textLength="39" lengthAdjust="spacingAndGlyphs" fill="#111">xDC-SIGN</text>
<line x1="62.0" y1="336.3" x2="66.6" y2="336.3" stroke="#111" stroke-width="1.4"/>
<line x1="64.3" y1="334.0" x2="64.3" y2="338.6" stroke="#111" stroke-width="1.4"/>
<line x1="82.3" y1="336.3" x2="86.9" y2="336.3" stroke="#111" stroke-width="1.4"/>
<line x1="84.6" y1="334.0" x2="84.6" y2="338.6" stroke="#111" stroke-width="1.4"/>
<line x1="102.5" y1="336.3" x2="107.1" y2="336.3" stroke="#111" stroke-width="1.4"/>
<line x1="104.8" y1="334.0" x2="104.8" y2="338.6" stroke="#111" stroke-width="1.4"/>
<line x1="123.8" y1="336.3" x2="126.2" y2="336.3" stroke="#111" stroke-width="1.3"/>
<line x1="143.9" y1="336.3" x2="146.3" y2="336.3" stroke="#111" stroke-width="1.3"/>
<line x1="164.3" y1="336.3" x2="166.7" y2="336.3" stroke="#111" stroke-width="1.3"/>
<text x="52.9" y="349.6" font-size="8.2" font-weight="bold" text-anchor="end" textLength="24" lengthAdjust="spacingAndGlyphs" fill="#111">anti-Ig</text>
<line x1="63.1" y1="347.5" x2="65.5" y2="347.5" stroke="#111" stroke-width="1.3"/>
<line x1="83.4" y1="347.5" x2="85.8" y2="347.5" stroke="#111" stroke-width="1.3"/>
<line x1="103.6" y1="347.5" x2="106.0" y2="347.5" stroke="#111" stroke-width="1.3"/>
<line x1="122.7" y1="347.5" x2="127.3" y2="347.5" stroke="#111" stroke-width="1.4"/>
<line x1="125" y1="345.2" x2="125" y2="349.8" stroke="#111" stroke-width="1.4"/>
<line x1="142.8" y1="347.5" x2="147.4" y2="347.5" stroke="#111" stroke-width="1.4"/>
<line x1="145.1" y1="345.2" x2="145.1" y2="349.8" stroke="#111" stroke-width="1.4"/>
<line x1="163.2" y1="347.5" x2="167.8" y2="347.5" stroke="#111" stroke-width="1.4"/>
<line x1="165.5" y1="345.2" x2="165.5" y2="349.8" stroke="#111" stroke-width="1.4"/>
<text x="52.9" y="362.7" font-size="8.2" font-weight="bold" text-anchor="end" textLength="40.5" lengthAdjust="spacingAndGlyphs" fill="#111">Tamatanib</text>
<line x1="63.1" y1="359.9" x2="65.5" y2="359.9" stroke="#111" stroke-width="1.3"/>
<line x1="82.3" y1="359.9" x2="86.9" y2="359.9" stroke="#111" stroke-width="1.4"/>
<line x1="84.6" y1="357.6" x2="84.6" y2="362.2" stroke="#111" stroke-width="1.4"/>
<line x1="103.6" y1="359.9" x2="106.0" y2="359.9" stroke="#111" stroke-width="1.3"/>
<line x1="123.8" y1="359.9" x2="126.2" y2="359.9" stroke="#111" stroke-width="1.3"/>
<line x1="142.8" y1="359.9" x2="147.4" y2="359.9" stroke="#111" stroke-width="1.4"/>
<line x1="145.1" y1="357.6" x2="145.1" y2="362.2" stroke="#111" stroke-width="1.4"/>
<line x1="164.3" y1="359.9" x2="166.7" y2="359.9" stroke="#111" stroke-width="1.3"/>
<text x="52.9" y="374.6" font-size="8.2" font-weight="bold" text-anchor="end" textLength="31.6" lengthAdjust="spacingAndGlyphs" fill="#111">Ibrutinib</text>
<line x1="63.1" y1="372.7" x2="65.5" y2="372.7" stroke="#111" stroke-width="1.3"/>
<line x1="83.4" y1="372.7" x2="85.8" y2="372.7" stroke="#111" stroke-width="1.3"/>
<line x1="102.5" y1="372.7" x2="107.1" y2="372.7" stroke="#111" stroke-width="1.4"/>
<line x1="104.8" y1="370.4" x2="104.8" y2="375.0" stroke="#111" stroke-width="1.4"/>
<line x1="123.8" y1="372.7" x2="126.2" y2="372.7" stroke="#111" stroke-width="1.3"/>
<line x1="143.9" y1="372.7" x2="146.3" y2="372.7" stroke="#111" stroke-width="1.3"/>
<line x1="163.2" y1="372.7" x2="167.8" y2="372.7" stroke="#111" stroke-width="1.4"/>
<line x1="165.5" y1="370.4" x2="165.5" y2="375.0" stroke="#111" stroke-width="1.4"/>
<text x="245.5" y="337.8" font-size="8.2" font-weight="bold" text-anchor="end" textLength="39" lengthAdjust="spacingAndGlyphs" fill="#111">xDC-SIGN</text>
<line x1="254.2" y1="334.6" x2="258.8" y2="334.6" stroke="#111" stroke-width="1.4"/>
<line x1="256.5" y1="332.3" x2="256.5" y2="336.9" stroke="#111" stroke-width="1.4"/>
<line x1="274.7" y1="334.6" x2="279.3" y2="334.6" stroke="#111" stroke-width="1.4"/>
<line x1="277" y1="332.3" x2="277" y2="336.9" stroke="#111" stroke-width="1.4"/>
<line x1="295.0" y1="334.6" x2="299.6" y2="334.6" stroke="#111" stroke-width="1.4"/>
<line x1="297.3" y1="332.3" x2="297.3" y2="336.9" stroke="#111" stroke-width="1.4"/>
<line x1="316.2" y1="334.6" x2="318.6" y2="334.6" stroke="#111" stroke-width="1.3"/>
<line x1="336.5" y1="334.6" x2="338.9" y2="334.6" stroke="#111" stroke-width="1.3"/>
<line x1="356.8" y1="334.6" x2="359.2" y2="334.6" stroke="#111" stroke-width="1.3"/>
<text x="245.5" y="349.1" font-size="8.2" font-weight="bold" text-anchor="end" textLength="24.3" lengthAdjust="spacingAndGlyphs" fill="#111">anti-Ig</text>
<line x1="255.3" y1="346.1" x2="257.7" y2="346.1" stroke="#111" stroke-width="1.3"/>
<line x1="275.8" y1="346.1" x2="278.2" y2="346.1" stroke="#111" stroke-width="1.3"/>
<line x1="296.1" y1="346.1" x2="298.5" y2="346.1" stroke="#111" stroke-width="1.3"/>
<line x1="315.1" y1="346.1" x2="319.7" y2="346.1" stroke="#111" stroke-width="1.4"/>
<line x1="317.4" y1="343.8" x2="317.4" y2="348.4" stroke="#111" stroke-width="1.4"/>
<line x1="335.4" y1="346.1" x2="340.0" y2="346.1" stroke="#111" stroke-width="1.4"/>
<line x1="337.7" y1="343.8" x2="337.7" y2="348.4" stroke="#111" stroke-width="1.4"/>
<line x1="355.7" y1="346.1" x2="360.3" y2="346.1" stroke="#111" stroke-width="1.4"/>
<line x1="358" y1="343.8" x2="358" y2="348.4" stroke="#111" stroke-width="1.4"/>
<text x="245.5" y="361.3" font-size="8.2" font-weight="bold" text-anchor="end" textLength="40.6" lengthAdjust="spacingAndGlyphs" fill="#111">Tamatanib</text>
<line x1="255.3" y1="358.1" x2="257.7" y2="358.1" stroke="#111" stroke-width="1.3"/>
<line x1="274.7" y1="358.1" x2="279.3" y2="358.1" stroke="#111" stroke-width="1.4"/>
<line x1="277" y1="355.8" x2="277" y2="360.4" stroke="#111" stroke-width="1.4"/>
<line x1="296.1" y1="358.1" x2="298.5" y2="358.1" stroke="#111" stroke-width="1.3"/>
<line x1="316.2" y1="358.1" x2="318.6" y2="358.1" stroke="#111" stroke-width="1.3"/>
<line x1="335.4" y1="358.1" x2="340.0" y2="358.1" stroke="#111" stroke-width="1.4"/>
<line x1="337.7" y1="355.8" x2="337.7" y2="360.4" stroke="#111" stroke-width="1.4"/>
<line x1="356.8" y1="358.1" x2="359.2" y2="358.1" stroke="#111" stroke-width="1.3"/>
<text x="245.5" y="373.3" font-size="8.2" font-weight="bold" text-anchor="end" textLength="32" lengthAdjust="spacingAndGlyphs" fill="#111">Ibrutinib</text>
<line x1="255.3" y1="370.3" x2="257.7" y2="370.3" stroke="#111" stroke-width="1.3"/>
<line x1="275.8" y1="370.3" x2="278.2" y2="370.3" stroke="#111" stroke-width="1.3"/>
<line x1="295.0" y1="370.3" x2="299.6" y2="370.3" stroke="#111" stroke-width="1.4"/>
<line x1="297.3" y1="368.0" x2="297.3" y2="372.6" stroke="#111" stroke-width="1.4"/>
<line x1="316.2" y1="370.3" x2="318.6" y2="370.3" stroke="#111" stroke-width="1.3"/>
<line x1="336.5" y1="370.3" x2="338.9" y2="370.3" stroke="#111" stroke-width="1.3"/>
<line x1="355.7" y1="370.3" x2="360.3" y2="370.3" stroke="#111" stroke-width="1.4"/>
<line x1="358" y1="368.0" x2="358" y2="372.6" stroke="#111" stroke-width="1.4"/>
</svg>
</body></html>
